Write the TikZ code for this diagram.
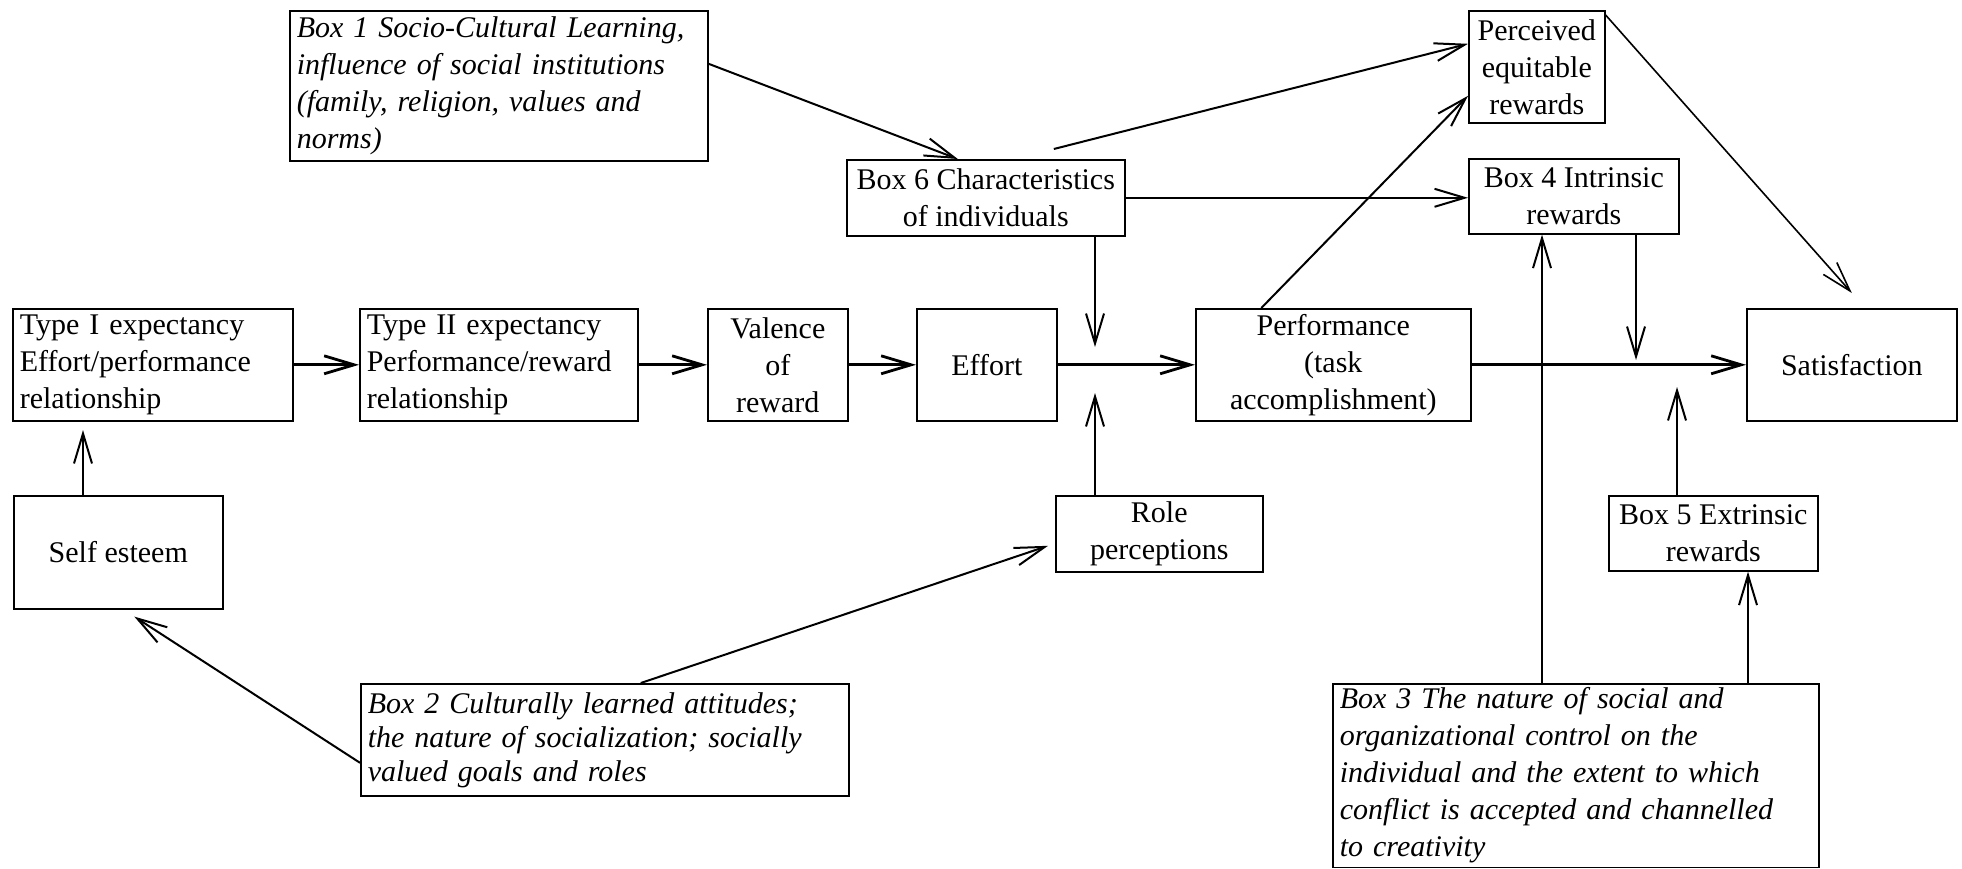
\documentclass[tikz,border=0pt]{standalone}
\usepackage{fontspec}
\setmainfont{Liberation Serif}
\usetikzlibrary{arrows.meta}
\begin{document}
\begin{tikzpicture}[x=0.5pt,y=-0.5pt,
  bx/.style={draw, line width=0.8pt, inner xsep=3.5pt, inner ysep=0pt, anchor=north west, font=\fontsize{15}{18.5}\selectfont},
  cbx/.style 2 args={bx, align=center, minimum width=#1, minimum height=#2},
  lbx/.style 2 args={bx, align=left, text width=#1, minimum height=#2},
  it/.style={font=\fontsize{15}{18.5}\selectfont\itshape},
  arr/.style={line width=1pt, -{Straight Barb[length=15pt,width=9pt]}},
  arrm/.style={arr, line width=1.4pt}]
\useasboundingbox (0,0) rectangle (1962,868);

\node[lbx={202pt}{75pt}, it] (b1) at (289,10) {Box 1 Socio-Cultural Learning,\\influence of social institutions\\(family, religion, values and\\norms)};
\node[cbx={139pt}{38pt}] (b6) at (846,159) {Box 6 Characteristics\\of individuals};
\node[cbx={68pt}{56pt}] (pe) at (1468,10) {Perceived\\equitable\\rewards};
\node[cbx={105pt}{37.5pt}] (b4) at (1468,158) {Box 4 Intrinsic\\rewards};
\node[lbx={133pt}{56pt}] (t1) at (12,308) {Type I expectancy\\Effort/performance\\relationship};
\node[lbx={132pt}{56pt}] (t2) at (359,308) {Type II expectancy\\Performance/reward\\relationship};
\node[cbx={70pt}{56pt}] (va) at (707,308) {Valence\\of\\reward};
\node[cbx={70pt}{56pt}] (ef) at (916,308) {Effort};
\node[cbx={137.5pt}{56pt}] (pf) at (1195,308) {Performance\\(task\\accomplishment)};
\node[cbx={105pt}{56pt}] (sa) at (1746,308) {Satisfaction};
\node[cbx={104.5pt}{56.5pt}] (se) at (13,495) {Self esteem};
\node[cbx={103.5pt}{38pt}] (ro) at (1055,495) {Role\\perceptions};
\node[cbx={104.5pt}{37.5pt}] (b5) at (1608,495) {Box 5 Extrinsic\\rewards};
\node[lbx={237pt}{56pt}, font=\fontsize{15}{17}\selectfont\itshape] (b2) at (360,683) {Box 2 Culturally learned attitudes;\\the nature of socialization; socially\\valued goals and roles};
\node[bx, align=left, text width=236pt, inner ysep=2pt, it] (b3) at (1332,683) {Box 3 The nature of social and\\organizational control on the\\individual and the extent to which\\conflict is accepted and channelled\\to creativity};

\draw[arr] ([yshift=11pt]b1.east) -- ([xshift=-14pt]b6.north);
\draw[arr] ([xshift=34pt,yshift=5pt]b6.north) -- ([yshift=11.5pt]pe.west);
\draw[arr] (b6.east) -- (b6.east -| b4.west);
\coordinate (m1) at (1095,347);
\coordinate (m2) at (1095,393);
\draw[arr] (b6.south -| m1) -- (m1);
\draw[arr] (ro.north -| m2) -- (m2);

\draw[arrm] (t1.east) -- (t2.west);
\draw[arrm] (t2.east) -- (va.west);
\draw[arrm] (va.east) -- (ef.west);
\draw[arrm] (ef.east) -- (pf.west);
\draw[arrm] (pf.east) -- (sa.west);

\draw[arr] ([xshift=-36pt]pf.north) -- ([yshift=-14.5pt]pe.west);
\draw[arr, line width=0.8pt] ([yshift=-2.5pt]pe.north east) -- ([yshift=7.5pt]sa.north);

\coordinate (m3) at (1636,360);
\draw[arr] (b4.south -| m3) -- (m3);
\coordinate (m4) at (1677,387);
\draw[arr] (b5.north -| m4) -- (m4);

\coordinate (x1) at (1542,0);
\draw[arr] (b3.north -| x1) -- (b4.south -| x1);
\coordinate (x2) at (1748,0);
\draw[arr] (b3.north -| x2) -- (b5.south -| x2);
\coordinate (m5) at (83,430);
\draw[arr] (se.north -| m5) -- (m5);

\draw[arr] ([yshift=-11.5pt]b2.west) -- ([xshift=8pt,yshift=-3.5pt]se.south);
\draw[arr] ([xshift=18pt]b2.north) -- ([xshift=-3.5pt,yshift=-6pt]ro.west);
\end{tikzpicture}
\end{document}
